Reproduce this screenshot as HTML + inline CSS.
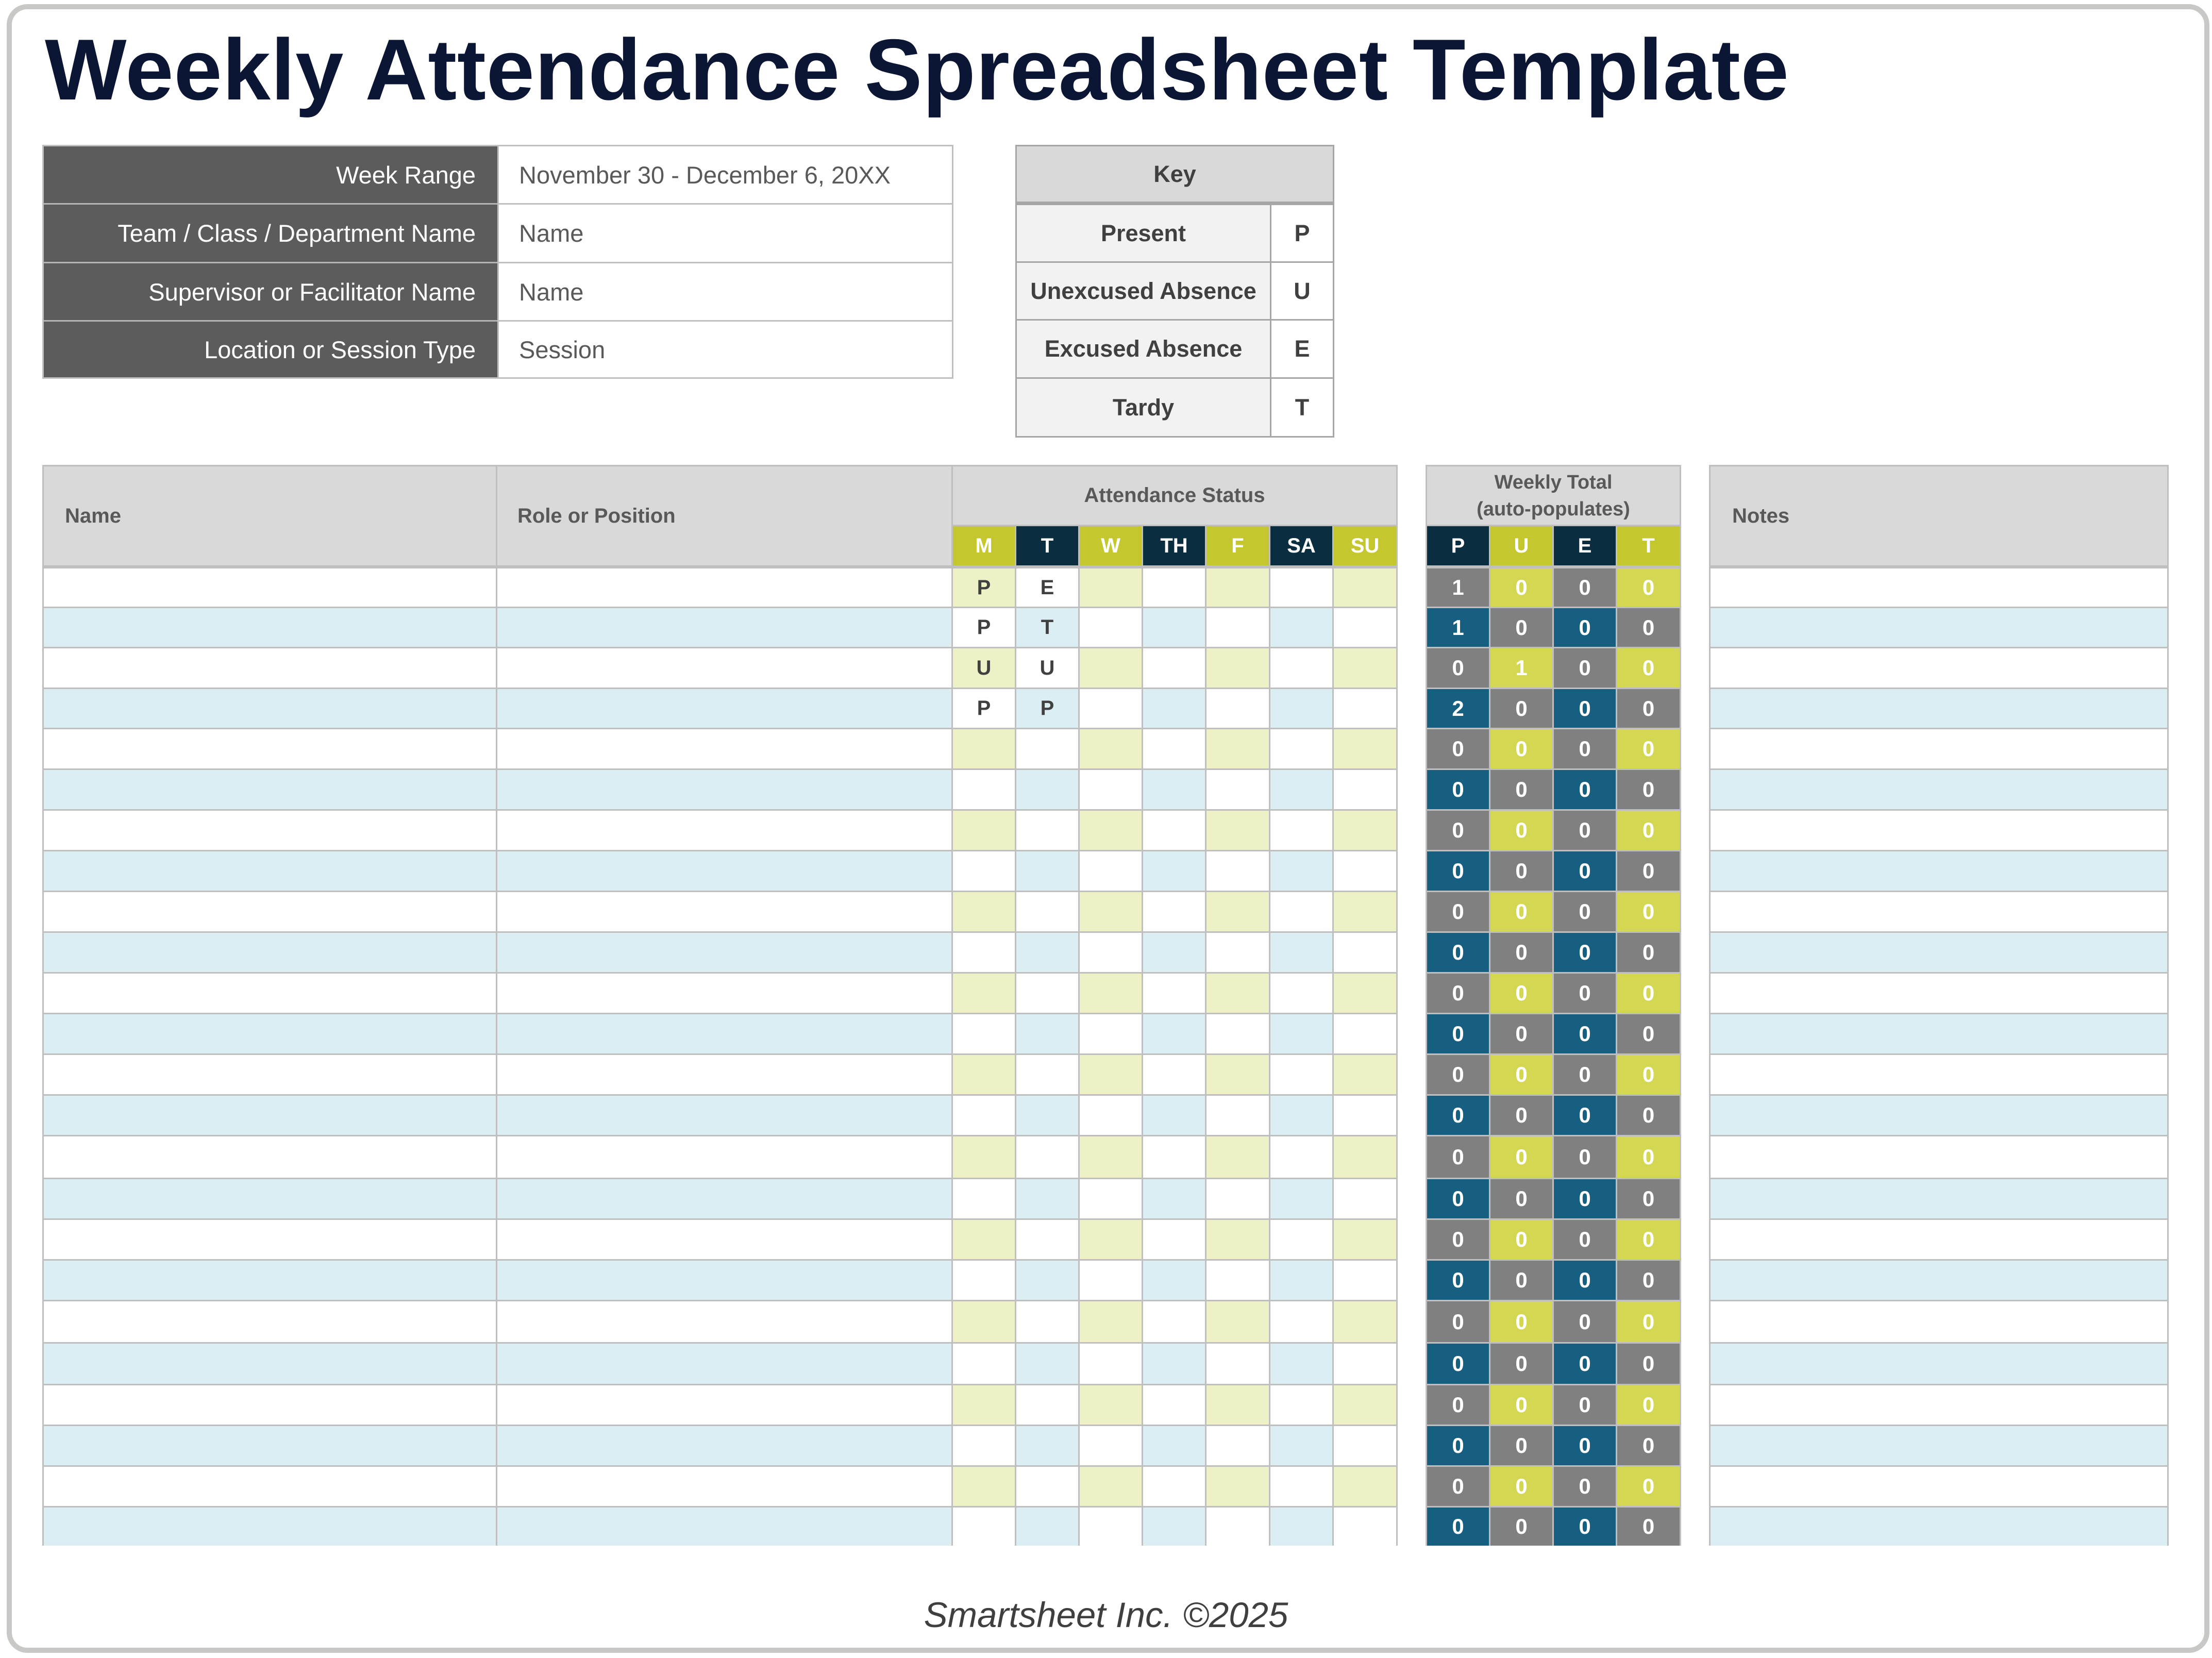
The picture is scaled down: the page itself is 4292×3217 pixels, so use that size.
<!DOCTYPE html>
<html>
<head>
<meta charset="utf-8">
<style>
html,body{margin:0;padding:0;background:#fff;}
body{width:4292px;height:3217px;position:relative;overflow:hidden;font-family:"Liberation Sans",Arial,sans-serif;}
.abs{position:absolute;box-sizing:border-box;}
.frame{position:absolute;left:13px;top:8px;width:4274px;height:3199px;box-sizing:border-box;border:10px solid #c8c8c6;border-radius:40px;}
.title{position:absolute;left:87px;top:51px;font-size:168px;line-height:168px;font-weight:bold;color:#0a1633;white-space:nowrap;letter-spacing:0.7px;}
.footer{position:absolute;left:0;width:4292px;top:3099px;text-align:center;font-size:69px;line-height:69px;font-style:italic;color:#3f3f3f;}
/* info table */
.ilab{position:absolute;box-sizing:border-box;left:85px;width:880px;background:#5b5c5b;color:#fff;font-size:47px;display:flex;align-items:center;justify-content:flex-end;padding-right:42px;white-space:nowrap;}
.ival{position:absolute;box-sizing:border-box;left:965px;width:882px;background:#fff;color:#595959;font-size:47px;display:flex;align-items:center;padding-left:39px;border-left:3px solid #bfbfbf;white-space:nowrap;}
.bb{border-bottom:3px solid #b4b4b4;}
/* key table */
.klab{position:absolute;box-sizing:border-box;left:1973px;width:491px;background:#f2f2f2;color:#404040;font-size:45px;font-weight:bold;display:flex;align-items:center;justify-content:center;white-space:nowrap;}
.klet{position:absolute;box-sizing:border-box;left:2464px;width:122px;background:#fff;color:#404040;font-size:45px;font-weight:bold;display:flex;align-items:center;justify-content:center;border-left:3px solid #a6a6a6;}
.kb{border-bottom:3px solid #a6a6a6;}
/* main headers */
.hb{position:absolute;box-sizing:border-box;background:#d9d9d9;border-top:3px solid #bfbfbf;border-right:3px solid #bfbfbf;display:flex;align-items:center;font-weight:bold;font-size:40px;color:#595959;white-space:nowrap;}
/* rows */
.row{position:absolute;left:0;width:4292px;}
.c{position:absolute;top:0;bottom:0;box-sizing:border-box;border-right:3px solid #bfbfbf;border-bottom:3px solid #bfbfbf;display:flex;align-items:center;justify-content:center;font-weight:bold;font-size:40px;color:#404040;}
.last .c{border-bottom:none;}
.n{left:82px;width:883px;border-left:3px solid #bfbfbf;}
.ro{left:965px;width:884px;}
.d1{left:1849px;width:123px;}
.d2{left:1972px;width:123px;}
.d3{left:2095px;width:123px;}
.d4{left:2218px;width:123px;}
.d5{left:2341px;width:124px;}
.d6{left:2465px;width:123px;}
.d7{left:2588px;width:124px;}
.t1{left:2766px;width:126px;border-left:3px solid #bfbfbf;}
.t2{left:2892px;width:123px;}
.t3{left:3015px;width:123px;}
.t4{left:3138px;width:124px;}
.nt{left:3316px;width:892px;border-left:3px solid #bfbfbf;}
.t1,.t2,.t3,.t4{color:#fff;font-size:42px;}
.o .n,.o .ro,.o .nt{background:#fff;}
.e .n,.e .ro,.e .nt{background:#daeef3;}
.o .d1,.o .d3,.o .d5,.o .d7{background:#eef0c6;}
.o .d2,.o .d4,.o .d6{background:#fff;}
.e .d1,.e .d3,.e .d5,.e .d7{background:#fff;}
.e .d2,.e .d4,.e .d6{background:#daeef3;}
.o .t1,.o .t3{background:#808080;}
.o .t2,.o .t4{background:#d4d752;}
.e .t1,.e .t3{background:#175f80;}
.e .t2,.e .t4{background:#808080;}
.hd .c{border-bottom:none;color:#fff;font-size:40px;}
.hd .g{background:#c4c82e;}
.hd .v{background:#0a2e40;}
</style>
</head>
<body>
<div class="frame"></div>
<div class="title">Weekly Attendance Spreadsheet Template</div>

<!-- Info table -->
<div class="abs" style="left:82px;top:281px;width:1768px;height:454px;border:3px solid #bfbfbf;background:#fff;"></div>
<div class="ilab bb" style="top:284px;height:113px;">Week Range</div>
<div class="ival bb" style="top:284px;height:113px;border-bottom-color:#bfbfbf;">November 30 - December 6, 20XX</div>
<div class="ilab bb" style="top:397px;height:114px;">Team / Class / Department Name</div>
<div class="ival bb" style="top:397px;height:114px;border-bottom-color:#bfbfbf;">Name</div>
<div class="ilab bb" style="top:511px;height:113px;">Supervisor or Facilitator Name</div>
<div class="ival bb" style="top:511px;height:113px;border-bottom-color:#bfbfbf;">Name</div>
<div class="ilab" style="top:624px;height:108px;">Location or Session Type</div>
<div class="ival" style="top:624px;height:108px;">Session</div>

<!-- Key table -->
<div class="abs" style="left:1970px;top:281px;width:619px;height:568px;border:3px solid #a6a6a6;background:#fff;"></div>
<div class="abs" style="left:1973px;top:284px;width:613px;height:107px;background:#d9d9d9;color:#404040;font-size:45px;font-weight:bold;display:flex;align-items:center;justify-content:center;">Key</div>
<div class="abs" style="left:1973px;top:391px;width:613px;height:7px;background:#a6a6a6;"></div>
<div class="klab kb" style="top:398px;height:112px;">Present</div>
<div class="klet kb" style="top:398px;height:112px;">P</div>
<div class="klab kb" style="top:510px;height:112px;">Unexcused Absence</div>
<div class="klet kb" style="top:510px;height:112px;">U</div>
<div class="klab kb" style="top:622px;height:113px;">Excused Absence</div>
<div class="klet kb" style="top:622px;height:113px;">E</div>
<div class="klab" style="top:735px;height:111px;">Tardy</div>
<div class="klet" style="top:735px;height:111px;">T</div>

<!-- Main table headers -->
<div class="hb" style="left:82px;top:902px;width:883px;height:195px;border-left:3px solid #bfbfbf;padding-left:41px;">Name</div>
<div class="hb" style="left:965px;top:902px;width:884px;height:195px;padding-left:39px;">Role or Position</div>
<div class="hb" style="left:1849px;top:902px;width:863px;height:119px;border-bottom:3px solid #bfbfbf;justify-content:center;">Attendance Status</div>
<div class="hb" style="left:2766px;top:902px;width:496px;height:119px;border-left:3px solid #bfbfbf;border-bottom:3px solid #bfbfbf;flex-direction:column;justify-content:center;font-size:38px;line-height:52px;"><div>Weekly Total</div><div>(auto-populates)</div></div>
<div class="hb" style="left:3316px;top:902px;width:892px;height:195px;border-left:3px solid #bfbfbf;padding-left:42px;">Notes</div>

<div class="row hd" style="top:1021px;height:76px;">
<div class="c d1 g">M</div><div class="c d2 v">T</div><div class="c d3 g">W</div><div class="c d4 v">TH</div><div class="c d5 g">F</div><div class="c d6 v">SA</div><div class="c d7 g">SU</div>
<div class="c t1 v">P</div><div class="c t2 g">U</div><div class="c t3 v">E</div><div class="c t4 g">T</div>
</div>
<div class="abs" style="left:82px;top:1097px;width:2630px;height:6px;background:#bfbfbf;"></div>
<div class="abs" style="left:2766px;top:1097px;width:496px;height:6px;background:#bfbfbf;"></div>
<div class="abs" style="left:3316px;top:1097px;width:892px;height:6px;background:#bfbfbf;"></div>

<!-- Data rows -->
<div class="row o" style="top:1103px;height:77px;"><div class="c n"></div><div class="c ro"></div><div class="c d1">P</div><div class="c d2">E</div><div class="c d3"></div><div class="c d4"></div><div class="c d5"></div><div class="c d6"></div><div class="c d7"></div><div class="c t1">1</div><div class="c t2">0</div><div class="c t3">0</div><div class="c t4">0</div><div class="c nt"></div></div>
<div class="row e" style="top:1180px;height:78px;"><div class="c n"></div><div class="c ro"></div><div class="c d1">P</div><div class="c d2">T</div><div class="c d3"></div><div class="c d4"></div><div class="c d5"></div><div class="c d6"></div><div class="c d7"></div><div class="c t1">1</div><div class="c t2">0</div><div class="c t3">0</div><div class="c t4">0</div><div class="c nt"></div></div>
<div class="row o" style="top:1258px;height:79px;"><div class="c n"></div><div class="c ro"></div><div class="c d1">U</div><div class="c d2">U</div><div class="c d3"></div><div class="c d4"></div><div class="c d5"></div><div class="c d6"></div><div class="c d7"></div><div class="c t1">0</div><div class="c t2">1</div><div class="c t3">0</div><div class="c t4">0</div><div class="c nt"></div></div>
<div class="row e" style="top:1337px;height:78px;"><div class="c n"></div><div class="c ro"></div><div class="c d1">P</div><div class="c d2">P</div><div class="c d3"></div><div class="c d4"></div><div class="c d5"></div><div class="c d6"></div><div class="c d7"></div><div class="c t1">2</div><div class="c t2">0</div><div class="c t3">0</div><div class="c t4">0</div><div class="c nt"></div></div>
<div class="row o" style="top:1415px;height:79px;"><div class="c n"></div><div class="c ro"></div><div class="c d1"></div><div class="c d2"></div><div class="c d3"></div><div class="c d4"></div><div class="c d5"></div><div class="c d6"></div><div class="c d7"></div><div class="c t1">0</div><div class="c t2">0</div><div class="c t3">0</div><div class="c t4">0</div><div class="c nt"></div></div>
<div class="row e" style="top:1494px;height:79px;"><div class="c n"></div><div class="c ro"></div><div class="c d1"></div><div class="c d2"></div><div class="c d3"></div><div class="c d4"></div><div class="c d5"></div><div class="c d6"></div><div class="c d7"></div><div class="c t1">0</div><div class="c t2">0</div><div class="c t3">0</div><div class="c t4">0</div><div class="c nt"></div></div>
<div class="row o" style="top:1573px;height:79px;"><div class="c n"></div><div class="c ro"></div><div class="c d1"></div><div class="c d2"></div><div class="c d3"></div><div class="c d4"></div><div class="c d5"></div><div class="c d6"></div><div class="c d7"></div><div class="c t1">0</div><div class="c t2">0</div><div class="c t3">0</div><div class="c t4">0</div><div class="c nt"></div></div>
<div class="row e" style="top:1652px;height:79px;"><div class="c n"></div><div class="c ro"></div><div class="c d1"></div><div class="c d2"></div><div class="c d3"></div><div class="c d4"></div><div class="c d5"></div><div class="c d6"></div><div class="c d7"></div><div class="c t1">0</div><div class="c t2">0</div><div class="c t3">0</div><div class="c t4">0</div><div class="c nt"></div></div>
<div class="row o" style="top:1731px;height:79px;"><div class="c n"></div><div class="c ro"></div><div class="c d1"></div><div class="c d2"></div><div class="c d3"></div><div class="c d4"></div><div class="c d5"></div><div class="c d6"></div><div class="c d7"></div><div class="c t1">0</div><div class="c t2">0</div><div class="c t3">0</div><div class="c t4">0</div><div class="c nt"></div></div>
<div class="row e" style="top:1810px;height:79px;"><div class="c n"></div><div class="c ro"></div><div class="c d1"></div><div class="c d2"></div><div class="c d3"></div><div class="c d4"></div><div class="c d5"></div><div class="c d6"></div><div class="c d7"></div><div class="c t1">0</div><div class="c t2">0</div><div class="c t3">0</div><div class="c t4">0</div><div class="c nt"></div></div>
<div class="row o" style="top:1889px;height:79px;"><div class="c n"></div><div class="c ro"></div><div class="c d1"></div><div class="c d2"></div><div class="c d3"></div><div class="c d4"></div><div class="c d5"></div><div class="c d6"></div><div class="c d7"></div><div class="c t1">0</div><div class="c t2">0</div><div class="c t3">0</div><div class="c t4">0</div><div class="c nt"></div></div>
<div class="row e" style="top:1968px;height:79px;"><div class="c n"></div><div class="c ro"></div><div class="c d1"></div><div class="c d2"></div><div class="c d3"></div><div class="c d4"></div><div class="c d5"></div><div class="c d6"></div><div class="c d7"></div><div class="c t1">0</div><div class="c t2">0</div><div class="c t3">0</div><div class="c t4">0</div><div class="c nt"></div></div>
<div class="row o" style="top:2047px;height:79px;"><div class="c n"></div><div class="c ro"></div><div class="c d1"></div><div class="c d2"></div><div class="c d3"></div><div class="c d4"></div><div class="c d5"></div><div class="c d6"></div><div class="c d7"></div><div class="c t1">0</div><div class="c t2">0</div><div class="c t3">0</div><div class="c t4">0</div><div class="c nt"></div></div>
<div class="row e" style="top:2126px;height:79px;"><div class="c n"></div><div class="c ro"></div><div class="c d1"></div><div class="c d2"></div><div class="c d3"></div><div class="c d4"></div><div class="c d5"></div><div class="c d6"></div><div class="c d7"></div><div class="c t1">0</div><div class="c t2">0</div><div class="c t3">0</div><div class="c t4">0</div><div class="c nt"></div></div>
<div class="row o" style="top:2205px;height:83px;"><div class="c n"></div><div class="c ro"></div><div class="c d1"></div><div class="c d2"></div><div class="c d3"></div><div class="c d4"></div><div class="c d5"></div><div class="c d6"></div><div class="c d7"></div><div class="c t1">0</div><div class="c t2">0</div><div class="c t3">0</div><div class="c t4">0</div><div class="c nt"></div></div>
<div class="row e" style="top:2288px;height:79px;"><div class="c n"></div><div class="c ro"></div><div class="c d1"></div><div class="c d2"></div><div class="c d3"></div><div class="c d4"></div><div class="c d5"></div><div class="c d6"></div><div class="c d7"></div><div class="c t1">0</div><div class="c t2">0</div><div class="c t3">0</div><div class="c t4">0</div><div class="c nt"></div></div>
<div class="row o" style="top:2367px;height:79px;"><div class="c n"></div><div class="c ro"></div><div class="c d1"></div><div class="c d2"></div><div class="c d3"></div><div class="c d4"></div><div class="c d5"></div><div class="c d6"></div><div class="c d7"></div><div class="c t1">0</div><div class="c t2">0</div><div class="c t3">0</div><div class="c t4">0</div><div class="c nt"></div></div>
<div class="row e" style="top:2446px;height:79px;"><div class="c n"></div><div class="c ro"></div><div class="c d1"></div><div class="c d2"></div><div class="c d3"></div><div class="c d4"></div><div class="c d5"></div><div class="c d6"></div><div class="c d7"></div><div class="c t1">0</div><div class="c t2">0</div><div class="c t3">0</div><div class="c t4">0</div><div class="c nt"></div></div>
<div class="row o" style="top:2525px;height:82px;"><div class="c n"></div><div class="c ro"></div><div class="c d1"></div><div class="c d2"></div><div class="c d3"></div><div class="c d4"></div><div class="c d5"></div><div class="c d6"></div><div class="c d7"></div><div class="c t1">0</div><div class="c t2">0</div><div class="c t3">0</div><div class="c t4">0</div><div class="c nt"></div></div>
<div class="row e" style="top:2607px;height:81px;"><div class="c n"></div><div class="c ro"></div><div class="c d1"></div><div class="c d2"></div><div class="c d3"></div><div class="c d4"></div><div class="c d5"></div><div class="c d6"></div><div class="c d7"></div><div class="c t1">0</div><div class="c t2">0</div><div class="c t3">0</div><div class="c t4">0</div><div class="c nt"></div></div>
<div class="row o" style="top:2688px;height:79px;"><div class="c n"></div><div class="c ro"></div><div class="c d1"></div><div class="c d2"></div><div class="c d3"></div><div class="c d4"></div><div class="c d5"></div><div class="c d6"></div><div class="c d7"></div><div class="c t1">0</div><div class="c t2">0</div><div class="c t3">0</div><div class="c t4">0</div><div class="c nt"></div></div>
<div class="row e" style="top:2767px;height:79px;"><div class="c n"></div><div class="c ro"></div><div class="c d1"></div><div class="c d2"></div><div class="c d3"></div><div class="c d4"></div><div class="c d5"></div><div class="c d6"></div><div class="c d7"></div><div class="c t1">0</div><div class="c t2">0</div><div class="c t3">0</div><div class="c t4">0</div><div class="c nt"></div></div>
<div class="row o" style="top:2846px;height:79px;"><div class="c n"></div><div class="c ro"></div><div class="c d1"></div><div class="c d2"></div><div class="c d3"></div><div class="c d4"></div><div class="c d5"></div><div class="c d6"></div><div class="c d7"></div><div class="c t1">0</div><div class="c t2">0</div><div class="c t3">0</div><div class="c t4">0</div><div class="c nt"></div></div>
<div class="row e last" style="top:2925px;height:74px;"><div class="c n"></div><div class="c ro"></div><div class="c d1"></div><div class="c d2"></div><div class="c d3"></div><div class="c d4"></div><div class="c d5"></div><div class="c d6"></div><div class="c d7"></div><div class="c t1">0</div><div class="c t2">0</div><div class="c t3">0</div><div class="c t4">0</div><div class="c nt"></div></div>

<div class="footer">Smartsheet Inc. ©2025</div>
</body>
</html>
